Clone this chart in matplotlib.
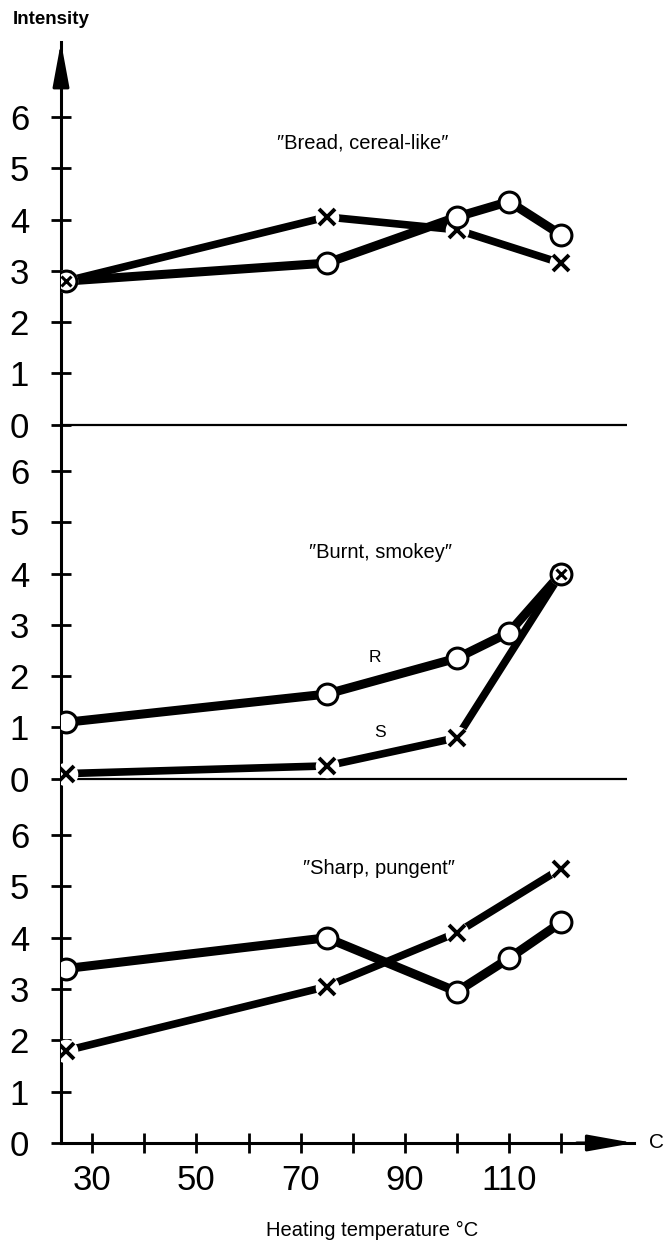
import matplotlib.pyplot as plt

plt.rcParams['font.family'] = ['Liberation Sans', 'DejaVu Sans']

# heating temperatures (deg C)
temps_o = [25, 75, 100, 110, 120]
temps_x = [25, 75, 100, 120]

# intensity scores per attribute
bread_o = [2.8, 3.15, 4.05, 4.35, 3.7]
bread_x = [2.8, 4.05, 3.8, 3.15]
burnt_r = [1.1, 1.65, 2.35, 2.85, 4.0]
burnt_s = [0.1, 0.25, 0.8, 4.0]
sharp_o = [3.4, 4.0, 2.95, 3.6, 4.3]
sharp_x = [1.8, 3.05, 4.1, 5.35]

titles = ["\u2033Bread, cereal-like\u2033", "\u2033Burnt, smokey\u2033", "\u2033Sharp, pungent\u2033"]
title_pos = [(82, 5.5), (85.3, 4.4), (85, 5.35)]
shifts = [14.0, 7.1, 0.0]
scale_vals = [0, 1, 2, 3, 4, 5, 6]
xticks = [30, 40, 50, 60, 70, 80, 90, 100, 110, 120]
xlabels = ['30', '', '50', '', '70', '', '90', '', '110', '']

narrow = ['Liberation Sans Narrow', 'Liberation Sans', 'DejaVu Sans']

fig = plt.figure(figsize=(6.66, 12.43), dpi=100)
ax = fig.add_axes([61 / 666, 100 / 1243, 573 / 666, 1101 / 1243])
ax.set_xlim(24, 134)
ax.set_ylim(0, 21.46)

for side in ['top', 'right']:
    ax.spines[side].set_visible(False)
for side in ['left', 'bottom']:
    ax.spines[side].set_linewidth(2.2)

# arrow heads on both axes
ax.annotate('', xy=(0, 1), xytext=(0, 0.96), xycoords='axes fraction',
            arrowprops=dict(arrowstyle='-|>,head_length=2.7,head_width=0.5',
                            mutation_scale=10, lw=2.2, color='k',
                            shrinkA=0, shrinkB=0), annotation_clip=False)
ax.annotate('', xy=(1, 0), xytext=(0.9, 0), xycoords='axes fraction',
            arrowprops=dict(arrowstyle='-|>,head_length=2.8,head_width=0.5',
                            mutation_scale=10, lw=2.2, color='k',
                            shrinkA=0, shrinkB=0), annotation_clip=False)

yt = [s + v for s in shifts for v in scale_vals]
ax.set_yticks(yt)
ax.set_yticklabels([str(v) for s in shifts for v in scale_vals], family=narrow, fontsize=25)
ax.set_xticks(xticks)
ax.set_xticklabels(xlabels, family=narrow, fontsize=25)
ax.tick_params(axis='y', direction='inout', length=14, width=2.0, pad=16)
ax.tick_params(axis='x', direction='inout', length=14, width=2.0, pad=8)

# panel separators
ax.hlines(shifts[:2], 24, 132.7, color='k', lw=1.6)

series = [(bread_o, bread_x), (burnt_r, burnt_s), (sharp_o, sharp_x)]
for (o_vals, x_vals), shift, title, (tx, ty) in zip(series, shifts, titles, title_pos):
    oy = [v + shift for v in o_vals]
    xy = [v + shift for v in x_vals]
    ax.plot(temps_o, oy, color='k', lw=6.5, solid_capstyle='butt', zorder=3)
    ax.plot(temps_x, xy, color='k', lw=5.5, solid_capstyle='butt', zorder=3)
    ax.plot(temps_x, xy, ls='none', marker='o', ms=17, mfc='white', mec='none', zorder=4)
    ax.plot(temps_x, xy, ls='none', marker='x', ms=12, mew=2.8, color='k', zorder=5)
    ax.plot(temps_o, oy, ls='none', marker='o', ms=15, mfc='white', mec='k', mew=2.2, zorder=6)
    # points shared by both series
    both = [(t, v) for t, v in zip(temps_x, xy) if (t, v) in list(zip(temps_o, oy))]
    if both:
        ax.plot([b[0] for b in both], [b[1] for b in both], ls='none', marker='x',
                ms=7.5, mew=2.2, color='k', zorder=7)
    ax.text(tx, ty + shift, title, ha='center', va='center', fontsize=14.5)

ax.text(84.3, 2.36 + shifts[1], 'R', ha='center', va='center', fontsize=12.5)
ax.text(85.3, 0.9 + shifts[1], 'S', ha='center', va='center', fontsize=12.5)

fig.text(13 / 666, 1 - 20 / 1243, 'Intensity', ha='left', va='center', fontsize=13.5,
         fontweight='bold')
fig.text(657 / 666, 1 - 1143 / 1243, 'C', ha='center', va='center', fontsize=15)
fig.text(372 / 666, 1 - 1230 / 1243, 'Heating temperature \u00b0C', ha='center',
         va='center', fontsize=14.5)

fig.savefig('out.png', dpi=100)
